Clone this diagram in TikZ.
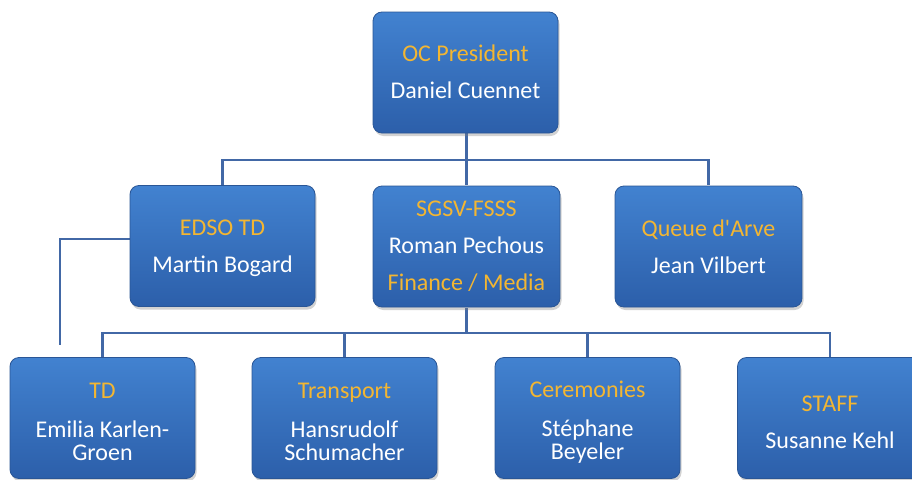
\documentclass[tikz,border=0pt]{standalone}
\usepackage{fontspec}
\setmainfont{Carlito}
\usetikzlibrary{shadows}
\definecolor{boxtop}{HTML}{4282D0}
\definecolor{boxbot}{HTML}{2C5FAA}
\definecolor{boxline}{HTML}{2A5696}
\definecolor{ttlcol}{HTML}{F3B632}
\definecolor{conncol}{HTML}{4268A6}
\newcommand{\ttl}[1]{{\color{ttlcol}#1}}
\tikzset{
  orgbox/.style={rectangle, rounded corners=9pt, draw=boxline, line width=0.8pt,
    top color=boxtop, bottom color=boxbot,
    minimum width=185pt, minimum height=121pt, inner sep=0pt,
    drop shadow={opacity=0.35, shadow xshift=1.5pt, shadow yshift=-3pt}},
  boxtext/.style={text=white, inner sep=0pt, align=center,
    font=\fontsize{24}{23}\selectfont},
  conn/.style={draw=conncol, line width=2.6pt}
}
\begin{document}
\begin{tikzpicture}[x=1pt,y=-1pt]
\useasboundingbox (0,0) rectangle (912,479);
\clip (0,0) rectangle (912,479);
\fill[white] (0,0) rectangle (912,479);
\coordinate (free) at (60,345);
% connectors
\draw[conn] (466.5,133) -- (466.5,185);
\draw[conn] (222.5,185) -- (222.5,160) -- (708.5,160) -- (708.5,185);
\draw[conn] (466.5,308) -- (466.5,333);
\draw[conn] (102.5,359) -- (102.5,333) -- (830,333) -- (830,359);
\draw[conn] (344.5,333) -- (344.5,359);
\draw[conn] (587.5,333) -- (587.5,359);
\draw[conn] (130,239) -- (60,239) -- (free);
% boxes
\node[orgbox] (top) at (465.5,72.5) {};
\node[orgbox] (edso) at (222.5,246) {};
\node[orgbox, minimum width=187pt] (sgsv) at (466.5,246.5) {};
\node[orgbox, minimum width=187pt] (queue) at (708.5,246.5) {};
\node[orgbox] (td) at (102.5,418) {};
\node[orgbox] (transport) at (344.5,418) {};
\node[orgbox] (cer) at (587.5,418) {};
\node[orgbox] (staff) at (830,418) {};
% texts
\node[boxtext] (topt) at ([yshift=1pt]top.center) {\ttl{OC President}\\[14pt]Daniel Cuennet};
\node[boxtext] (edsot) at ([yshift=-2pt]edso.center) {\ttl{EDSO TD}\\[14pt]Martin Bogard};
\node[boxtext] (sgsvt) at (sgsv.center) {\ttl{SGSV-FSSS}\\[14pt]Roman Pechous\\[14pt]\ttl{Finance / Media}};
\node[boxtext] (queuet) at (queue.center) {\ttl{Queue d\textquotesingle Arve}\\[14pt]Jean Vilbert};
\node[boxtext] (tdt) at ([yshift=-4pt]td.center) {\ttl{TD}\\[16pt]Emilia Karlen-\\Groen};
\node[boxtext] (transportt) at ([yshift=-4pt]transport.center) {\ttl{Transport}\\[16pt]Hansrudolf\\Schumacher};
\node[boxtext] (cert) at ([yshift=-4pt]cer.center) {\ttl{Ceremonies}\\[16pt]Stéphane\\Beyeler};
\node[boxtext] (stafft) at ([yshift=-4pt]staff.center) {\ttl{STAFF}\\[14pt]Susanne Kehl};
\end{tikzpicture}
\end{document}
